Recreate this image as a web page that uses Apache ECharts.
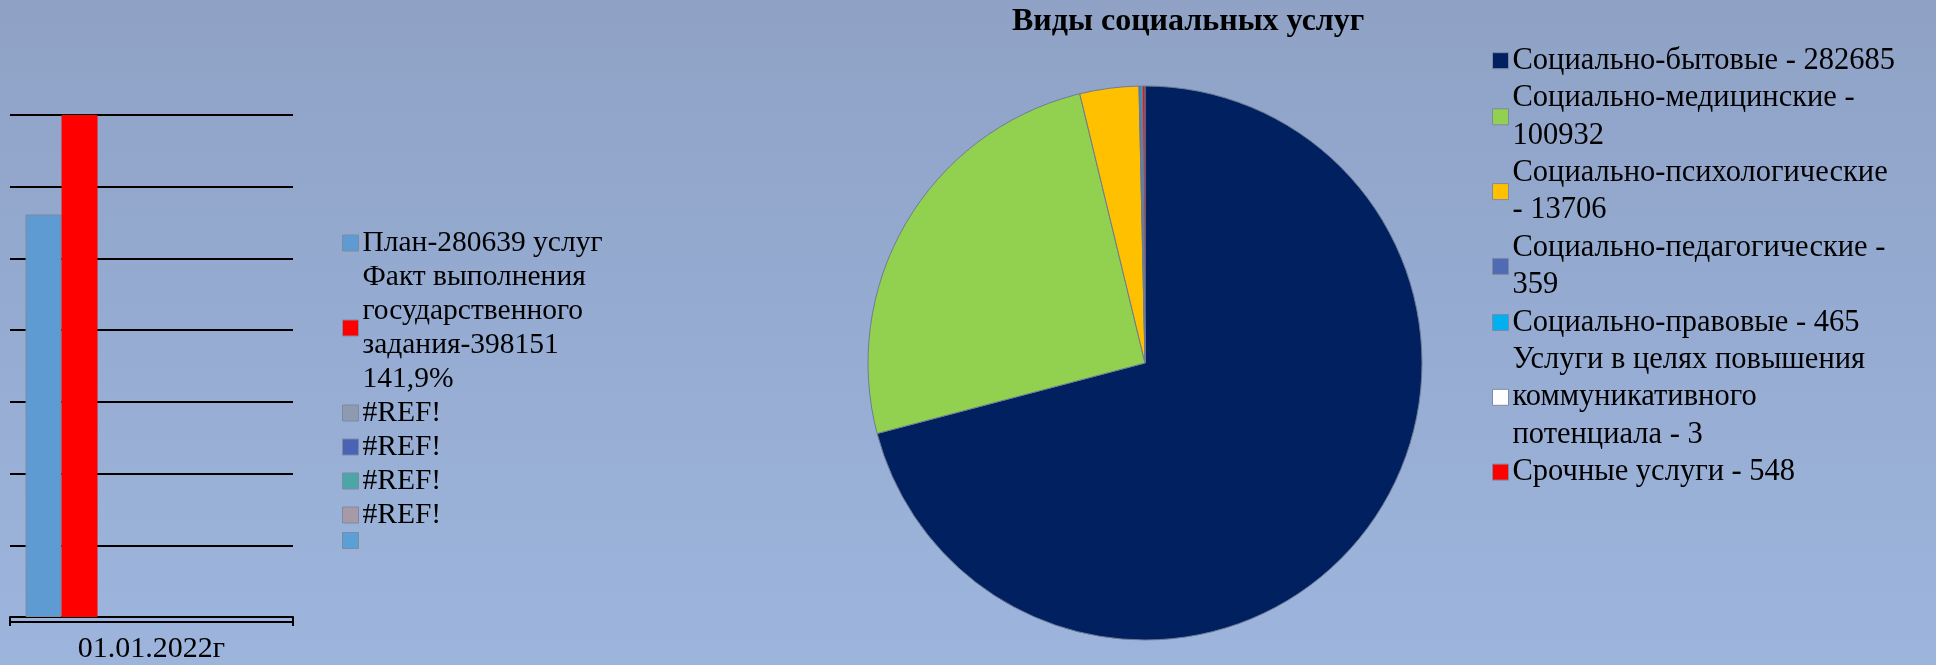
<!DOCTYPE html>
<html>
<head>
<meta charset="utf-8">
<script src="https://cdn.jsdelivr.net/npm/echarts@6/dist/echarts.min.js"></script>
<style>
  html, body { margin: 0; padding: 0; }
  #main { width: 1936px; height: 665px; }
</style>
</head>
<body>
<div id="main"></div>
<script>
// столбцы: план / факт (остальные ряды в исходнике пустые, #REF!)
const categories = ["01.01.2022г"];
const barIds = ["plan", "fact", "ref1", "ref2", "ref3", "ref4", "empty"];
const barLabels = [
  "План-280639 услуг",
  "Факт выполнения\nгосударственного\nзадания-398151\n141,9%",
  "#REF!",
  "#REF!",
  "#REF!",
  "#REF!",
  "",
];
const barValues = [[280639], [398151], [null], [null], [null], [null], [null]];
const barColors = ["#5E9BD3", "#FF0000", "#8E9AB0", "#4B63B5", "#4BA6A8", "#A899A6", "#5A9FD6"];

// круговая диаграмма: виды социальных услуг
const pieNames = [
  "Социально-бытовые - 282685",
  "Социально-медицинские -\n100932",
  "Социально-психологические\n- 13706",
  "Социально-педагогические -\n359",
  "Социально-правовые - 465",
  "Услуги в целях повышения\nкоммуникативного\nпотенциала - 3",
  "Срочные услуги - 548",
];
const pieValues = [282685, 100932, 13706, 359, 465, 3, 548];
const pieColors = ["#002060", "#92D050", "#FFC000", "#4F6BB3", "#00B0F0", "#FFFFFF", "#FF0000"];

const serif = "'Liberation Serif', 'Times New Roman', serif";

let myChart = echarts.init(document.getElementById("main"));

let option = {
  backgroundColor: new echarts.graphic.LinearGradient(0, 0, 0, 1, [
    { offset: 0, color: "#8FA2C6" },
    { offset: 1, color: "#9DB5DD" },
  ]),
  animation: false,
  title: {
    text: "Виды социальных услуг",
    left: 1012,
    top: 6,
    padding: 0,
    textStyle: { fontFamily: serif, fontSize: 32, fontWeight: "bold", color: "#000" },
  },
  legend: [
    {
      orient: "vertical",
      left: 342,
      top: 226,
      padding: 0,
      itemGap: 0,
      itemWidth: 16,
      itemHeight: 16,
      icon: "rect",
      itemStyle: { borderColor: "#7D8AA3", borderWidth: 1 },
      data: barIds,
      formatter: function (name) {
        return barLabels[barIds.indexOf(name)];
      },
      textStyle: { fontFamily: serif, fontSize: 29.5, lineHeight: 34, color: "#000", padding: [0, 0, 0, -1] },
    },
    {
      orient: "vertical",
      left: 1492,
      top: 42,
      padding: 0,
      itemGap: 0,
      itemWidth: 16,
      itemHeight: 16,
      icon: "rect",
      itemStyle: { borderColor: "#7D8AA3", borderWidth: 1 },
      data: pieNames,
      textStyle: { fontFamily: serif, fontSize: 30.5, lineHeight: 37.4, color: "#000", padding: [0, 0, 0, -1] },
    },
  ],
  grid: {
    left: 10,
    right: 1643,
    top: 115,
    bottom: 48,
  },
  xAxis: [
    {
      type: "category",
      data: categories,
      axisLine: { lineStyle: { color: "#000", width: 2 } },
      axisTick: { show: true, length: 9, lineStyle: { color: "#000", width: 2 } },
      axisLabel: { fontFamily: serif, fontSize: 30, color: "#000", margin: 17 },
    },
    {
      // нижняя линия "скобки" оси
      type: "category",
      data: categories,
      position: "bottom",
      offset: 5,
      axisLine: { lineStyle: { color: "#000", width: 2 } },
      axisTick: { show: false },
      axisLabel: { show: false },
    },
  ],
  yAxis: {
    type: "value",
    min: 0,
    max: 350000,
    interval: 50000,
    axisLabel: { show: false },
    axisLine: { show: false },
    axisTick: { show: false },
    splitLine: { lineStyle: { color: "#000", width: 2 } },
  },
  series: barIds
    .map(function (id, i) {
      return {
        name: id,
        type: "bar",
        barGap: 0,
        barCategoryGap: "11%",
        data: barValues[i],
        itemStyle: { color: barColors[i], borderColor: "#7D8AA3", borderWidth: i === 0 ? 1 : 0 },
      };
    })
    .concat([
      {
        name: "Виды социальных услуг",
        type: "pie",
        center: [1145, 363],
        radius: 277,
        startAngle: 90,
        clockwise: true,
        label: { show: false },
        labelLine: { show: false },
        itemStyle: { borderColor: "#6E7C96", borderWidth: 1 },
        data: pieNames.map(function (n, i) {
          return { name: n, value: pieValues[i], itemStyle: { color: pieColors[i] } };
        }),
      },
    ]),
};

window.onresize = function () {
  myChart.resize();
};
myChart.setOption(option);
</script>
</body>
</html>
